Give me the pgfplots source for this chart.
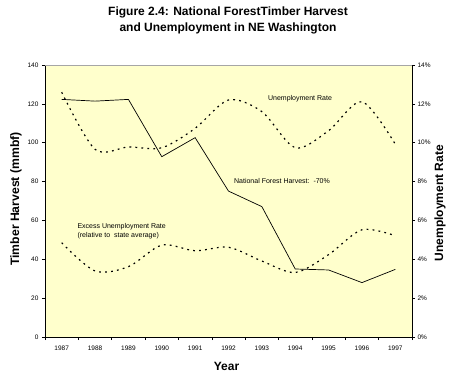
\documentclass[border=0pt]{standalone}
\usepackage{fontspec}
\setmainfont{Liberation Sans}
\usepackage{pgfplots}
\pgfplotsset{compat=1.18}
\definecolor{plotbg}{HTML}{FFFFCC}
\begin{document}
\begin{tikzpicture}
\useasboundingbox (0pt,0pt) rectangle (460pt,380pt);
\begin{axis}[
  at={(45pt,43pt)}, anchor=south west,
  width=367pt, height=272pt, scale only axis,
  axis background/.style={fill=plotbg},
  axis x line*=bottom, axis y line*=left,
  xmin=-0.5, xmax=10.5, ymin=0, ymax=140,
  xtick={0,...,10},
  xticklabels={1987,1988,1989,1990,1991,1992,1993,1994,1995,1996,1997},
  minor xtick={-0.5,0.5,...,10.5},
  major x tick style={draw=none},
  ytick={0,20,...,140},
  tick align=outside, major tick length=3pt, minor tick length=3pt,
  tick style={black, line width=0.6pt},
  every tick label/.append style={font=\fontsize{6.5}{7}\selectfont},
  /pgf/number format/assume math mode=true,
  xticklabel style={yshift=-2pt},
  clip=false,
]
\draw[gray!70, line width=0.6pt] (rel axis cs:0,1) -- (rel axis cs:1,1);
\addplot[black, line width=0.7pt] coordinates {
 (0,122.3) (1,121.4) (2,122.3) (3,92.8) (4,102.6) (5,75.1) (6,67.1) (7,35.0) (8,34.5) (9,28.0) (10,34.8)};
\end{axis}
\begin{axis}[
  at={(45pt,43pt)}, anchor=south west,
  width=367pt, height=272pt, scale only axis,
  axis x line=none, axis y line*=right,
  xmin=-0.5, xmax=10.5, ymin=0, ymax=14,
  ytick={0,2,...,14},
  yticklabels={0\%,2\%,4\%,6\%,8\%,10\%,12\%,14\%},
  tick align=outside, major tick length=3pt,
  tick style={black, line width=0.6pt},
  every tick label/.append style={font=\fontsize{6.5}{7}\selectfont},
  yticklabel style={xshift=-1pt},
  clip=false,
]
\addplot[black, line width=1.2pt, dash pattern=on 1.8pt off 4.2pt, smooth, tension=0.5] coordinates {
 (0,12.6) (1,9.66) (2,9.78) (3,9.74) (4,10.74) (5,12.2) (6,11.6) (7,9.74) (8,10.62) (9,12.11) (10,9.92)};
\addplot[black, line width=1.2pt, dash pattern=on 1.8pt off 4.2pt, smooth, tension=0.5] coordinates {
 (0,4.85) (1,3.40) (2,3.62) (3,4.73) (4,4.44) (5,4.62) (6,3.91) (7,3.32) (8,4.24) (9,5.52) (10,5.21)};
\end{axis}
\node[font=\bfseries\fontsize{12}{16}\selectfont, align=center] at (228pt,359.7pt) {Figure 2.4: National ForestTimber Harvest\\and Unemployment in NE Washington};
\node[font=\bfseries\fontsize{12.2}{13}\selectfont, rotate=90] at (16pt,181pt) {Timber Harvest (mmbf)};
\node[font=\bfseries\fontsize{12}{13}\selectfont, rotate=90] at (440pt,177pt) {Unemployment Rate};
\node[font=\bfseries\fontsize{12}{13}\selectfont] at (226.5pt,14pt) {Year};
\node[font=\fontsize{7}{8}\selectfont] at (300pt,281.5pt) {Unemployment Rate};
\node[font=\fontsize{7}{8}\selectfont] at (282pt,199.3pt) {National Forest Harvest:\ \ -70\%};
\node[font=\fontsize{7}{8}\selectfont, anchor=west, align=left] at (74pt,148.5pt) {Excess Unemployment Rate\\[1pt](relative to\ \ state average)};
\end{tikzpicture}
\end{document}
